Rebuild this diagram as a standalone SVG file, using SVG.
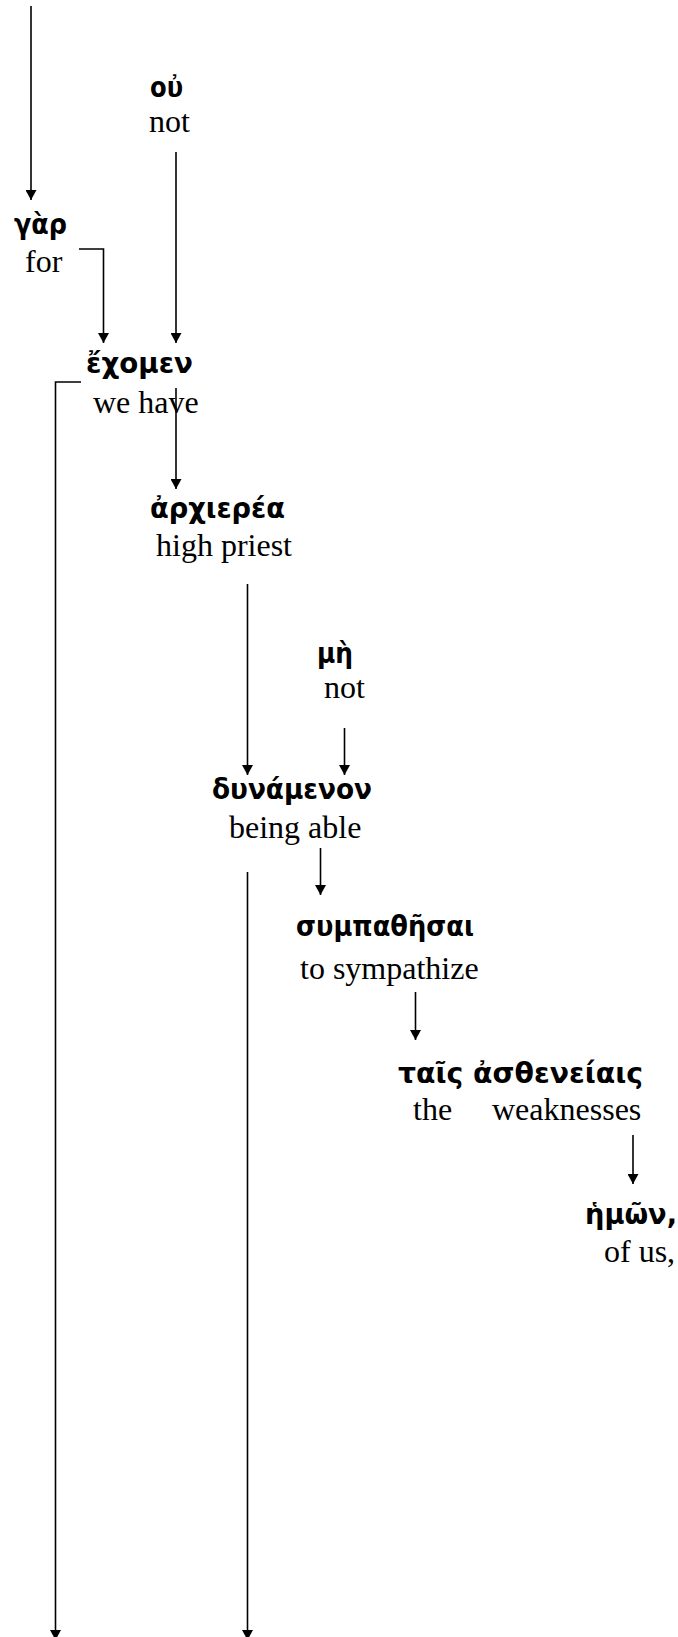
<svg xmlns="http://www.w3.org/2000/svg" width="678" height="1637" viewBox="0 0 678 1637">
<style>
.gk{font-family:"DejaVu Sans","Noto Sans",sans-serif;font-weight:bold;font-size:28px;fill:#000}
.en{font-family:"Liberation Serif","Times New Roman",serif;font-size:32px;fill:#000}
.c{fill:none;stroke:#000;stroke-width:1.6}
</style>
<defs>
<marker id="ah" markerUnits="userSpaceOnUse" markerWidth="10" markerHeight="11" refX="10" refY="5.5" orient="auto">
<path d="M0,0 L10,5.5 L0,11 z" fill="#000"/>
</marker>
</defs>
<rect width="678" height="1637" fill="#fff"/>
<g id="connectors">
<path class="c" d="M31,6 V200" marker-end="url(#ah)"/>
<path class="c" d="M176,152 V343" marker-end="url(#ah)"/>
<path class="c" d="M79,249 H103.5 V343" marker-end="url(#ah)"/>
<path class="c" d="M81,382 H55.5 V1640" marker-end="url(#ah)"/>
<path class="c" d="M176,388 V489" marker-end="url(#ah)"/>
<path class="c" d="M247.5,584 V775" marker-end="url(#ah)"/>
<path class="c" d="M344.5,728 V775" marker-end="url(#ah)"/>
<path class="c" d="M320.5,848 V895" marker-end="url(#ah)"/>
<path class="c" d="M247.5,872 V1640" marker-end="url(#ah)"/>
<path class="c" d="M415.5,992 V1040" marker-end="url(#ah)"/>
<path class="c" d="M633,1135 V1184" marker-end="url(#ah)"/>
</g>
<g id="n-ou">
<text class="gk" x="150" y="97" textLength="33" lengthAdjust="spacingAndGlyphs">οὐ</text>
<text class="en" x="149" y="132">not</text>
</g>
<g id="n-gar">
<text class="gk" x="14" y="234" textLength="53" lengthAdjust="spacingAndGlyphs">γὰρ</text>
<text class="en" x="25" y="272">for</text>
</g>
<g id="n-echomen">
<text class="gk" x="86" y="373" textLength="107" lengthAdjust="spacingAndGlyphs">ἔχομεν</text>
<text class="en" x="93" y="413">we have</text>
</g>
<g id="n-archierea">
<text class="gk" x="150" y="518" textLength="135" lengthAdjust="spacingAndGlyphs">ἀρχιερέα</text>
<text class="en" x="156" y="556">high priest</text>
</g>
<g id="n-me">
<text class="gk" x="317" y="663" textLength="36" lengthAdjust="spacingAndGlyphs">μὴ</text>
<text class="en" x="324" y="698">not</text>
</g>
<g id="n-dynamenon">
<text class="gk" x="212" y="799" textLength="160" lengthAdjust="spacingAndGlyphs">δυνάμενον</text>
<text class="en" x="229" y="838">being able</text>
</g>
<g id="n-sympathesai">
<text class="gk" x="296" y="936" textLength="178" lengthAdjust="spacingAndGlyphs">συμπαθῆσαι</text>
<text class="en" x="300" y="979">to sympathize</text>
</g>
<g id="n-astheneiais">
<text class="gk" x="398" y="1083" textLength="245" lengthAdjust="spacingAndGlyphs">ταῖς ἀσθενείαις</text>
<text class="en"><tspan x="413" y="1120">the</tspan><tspan x="492" y="1120">weaknesses</tspan></text>
</g>
<g id="n-hemon">
<text class="gk" x="585" y="1224" textLength="92" lengthAdjust="spacingAndGlyphs">ἡμῶν,</text>
<text class="en" x="604" y="1262">of us,</text>
</g>
</svg>
